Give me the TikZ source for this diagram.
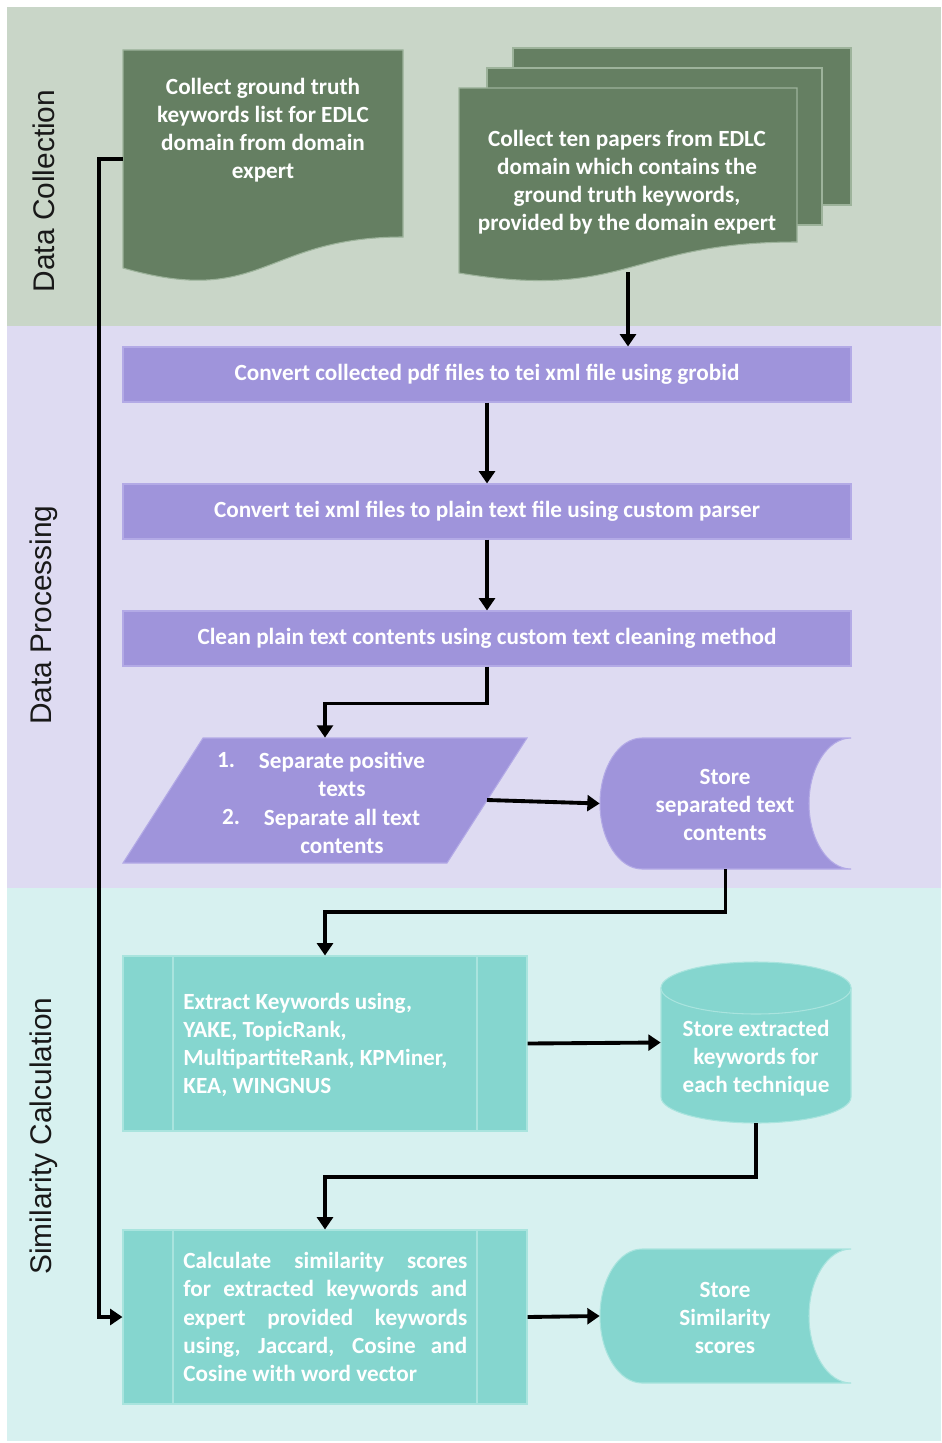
\documentclass[tikz,border=0pt]{standalone}
\usepackage{fontspec}
\setmainfont{Carlito}
\newfontfamily\labfont{Liberation Sans}
\usetikzlibrary{arrows.meta,fit,calc}
\definecolor{bandG}{HTML}{C9D6C8}
\definecolor{bandP}{HTML}{DEDBF2}
\definecolor{bandT}{HTML}{D7F1F0}
\definecolor{dgreen}{HTML}{657F62}
\definecolor{gline}{HTML}{9DB39B}
\definecolor{boxP}{HTML}{9F94DB}
\definecolor{pline}{HTML}{B3AAE6}
\definecolor{boxT}{HTML}{85D6CF}
\definecolor{tline}{HTML}{A9E4DE}
\tikzset{
  txt/.style={text=white, font=\bfseries\fontsize{13.2}{16}\selectfont, align=center, inner sep=0pt},
  lab/.style={rotate=90, text=black!90, font=\labfont\fontsize{17}{20}\selectfont, inner sep=0pt},
  flow/.style={line width=2.2pt, -{Triangle[length=7pt,width=9pt]}},
  pbox/.style={inner sep=0pt, fill=boxP, draw=pline, line width=0.6pt},
  tbox/.style={inner sep=0pt, fill=boxT, draw=tline, line width=0.6pt},
  hold/.style={inner sep=0pt}
}
\begin{document}
\begin{tikzpicture}[x=0.02cm,y=-0.02cm]
\useasboundingbox (0,0) rectangle (942,1443);
\fill[white] (0,0) rectangle (942,1443);
\fill[bandG] (7,7) rectangle (941,326);
\fill[bandP] (7,326) rectangle (941,888);
\fill[bandT] (7,888) rectangle (941,1441);

% lane labels
\node[lab] (l1) at (44,191) {Data Collection};
\node[lab] (l2) at (44,615) {Data Processing};
\node[lab] (l3) at (44,1136) {Similarity Calculation};

% document 1
\filldraw[fill=dgreen, draw=gline, line width=0.6pt] (123,50) -- (403,50) -- (403,237) .. controls (263,237) and (263,308) .. (123,268) -- cycle;
\node[hold, fit={(123,50) (403,268)}] (d1) {};
\node[txt] (d1t) at (263,130) {Collect ground truth\\keywords list for EDLC\\domain from domain\\expert};

% multi-document
\filldraw[fill=dgreen, draw=gline, line width=0.6pt] (513,48) rectangle (851,205);
\filldraw[fill=dgreen, draw=gline, line width=0.6pt] (487,68) rectangle (822,225);
\filldraw[fill=dgreen, draw=gline, line width=0.6pt] (459,88) -- (797,88) -- (797,242) .. controls (628,242) and (628,301) .. (459,273) -- cycle;
\node[hold, fit={(459,88) (797,272)}] (md) {};
\node[txt] (mdt) at (627,182) {Collect ten papers from EDLC\\domain which contains the\\ground truth keywords,\\provided by the domain expert};

% processing boxes
\node[pbox, fit={(123,347) (851,402)}] (b1) {};
\node[txt] at (b1) {Convert collected pdf files to tei xml file using grobid};
\node[pbox, fit={(123,484) (851,539)}] (b2) {};
\node[txt] at (b2) {Convert tei xml files to plain text file using custom parser};
\node[pbox, fit={(123,611) (851,666)}] (b3) {};
\node[txt] at (b3) {Clean plain text contents using custom text cleaning method};

% parallelogram
\filldraw[fill=boxP, draw=pline, line width=0.6pt] (203,738) -- (527,738) -- (447,863) -- (123,863) -- cycle;
\node[hold, fit={(123,738) (527,863)}] (pa) {};
\coordinate (pae) at (487,800);
\node[txt] (pn1) at (226,760) {1.};
\node[txt] (pt1) at (342,774) {Separate positive\\texts};
\node[txt] (pn2) at (231,817) {2.};
\node[txt] (pt2) at (342,831) {Separate all text\\contents};

% stored data 1
\filldraw[fill=boxP, draw=pline, line width=0.6pt] (642,738) -- (851,738) .. controls (828,738) and (809,767.3) .. (809,803.5) .. controls (809,839.7) and (828,869) .. (851,869) -- (642,869) .. controls (619,869) and (600,839.7) .. (600,803.5) .. controls (600,767.3) and (619,738) .. (642,738) -- cycle;
\node[hold, fit={(600,738) (851,869)}] (s1) {};
\node[txt] at (725,805) {Store\\separated text\\contents};

% predefined process 1
\node[tbox, fit={(123,956) (527,1131)}] (b4) {};
\draw[tline, line width=0.6pt] (173,956) -- (173,1131) (477,956) -- (477,1131);
\node[txt, align=left, anchor=west] at (183,1045) {Extract Keywords using,\\YAKE, TopicRank,\\MultipartiteRank, KPMiner,\\KEA, WINGNUS};

% cylinder
\filldraw[fill=boxT, draw=tline, line width=0.6pt] (661,988) -- (661,1097) .. controls (661,1111.4) and (703.6,1123) .. (756,1123) .. controls (808.4,1123) and (851,1111.4) .. (851,1097) -- (851,988) -- cycle;
\filldraw[fill=boxT, draw=tline, line width=0.6pt] (756,988) ellipse [x radius=95, y radius=26];
\node[hold, fit={(661,962) (851,1123)}] (cy) {};
\node[txt] at (756,1058) {Store extracted\\keywords for\\each technique};

% predefined process 2
\node[tbox, fit={(123,1230) (527,1404)}] (b5) {};
\draw[tline, line width=0.6pt] (173,1230) -- (173,1404) (477,1230) -- (477,1404);
\node[txt, align=left, anchor=west] at (183,1317) {\makebox[5.68cm][s]{Calculate similarity scores}\\\makebox[5.68cm][s]{for extracted keywords and}\\\makebox[5.68cm][s]{expert provided keywords}\\\makebox[5.68cm][s]{using, Jaccard, Cosine and}\\Cosine with word vector};

% stored data 2
\filldraw[fill=boxT, draw=tline, line width=0.6pt] (642,1249) -- (851,1249) .. controls (828,1249) and (809,1279) .. (809,1316) .. controls (809,1353) and (828,1383) .. (851,1383) -- (642,1383) .. controls (619,1383) and (600,1353) .. (600,1316) .. controls (600,1279) and (619,1249) .. (642,1249) -- cycle;
\node[hold, fit={(600,1249) (851,1383)}] (s2) {};
\node[txt] at (725,1318) {Store\\Similarity\\scores};

% connectors
\draw[flow] (md.south) -- (md.south |- b1.north);
\draw[flow] (b1.south) -- (b2.north);
\draw[flow] (b2.south) -- (b3.north);
\draw[flow] (b3.south) -- ++(0,37) -| (pa.north);
\draw[flow] (pae) -- (s1.west);
\draw[flow] (s1.south) -- ++(0,43) -| (b4.north);
\draw[flow] (b4.east) -- (cy.west);
\draw[flow] (cy.south) -- ++(0,54) -| (b5.north);
\draw[flow] (b5.east) -- (s2.west);
\draw[flow] (d1.west) -- ++(-24,0) |- (b5.west);
\end{tikzpicture}
\end{document}
